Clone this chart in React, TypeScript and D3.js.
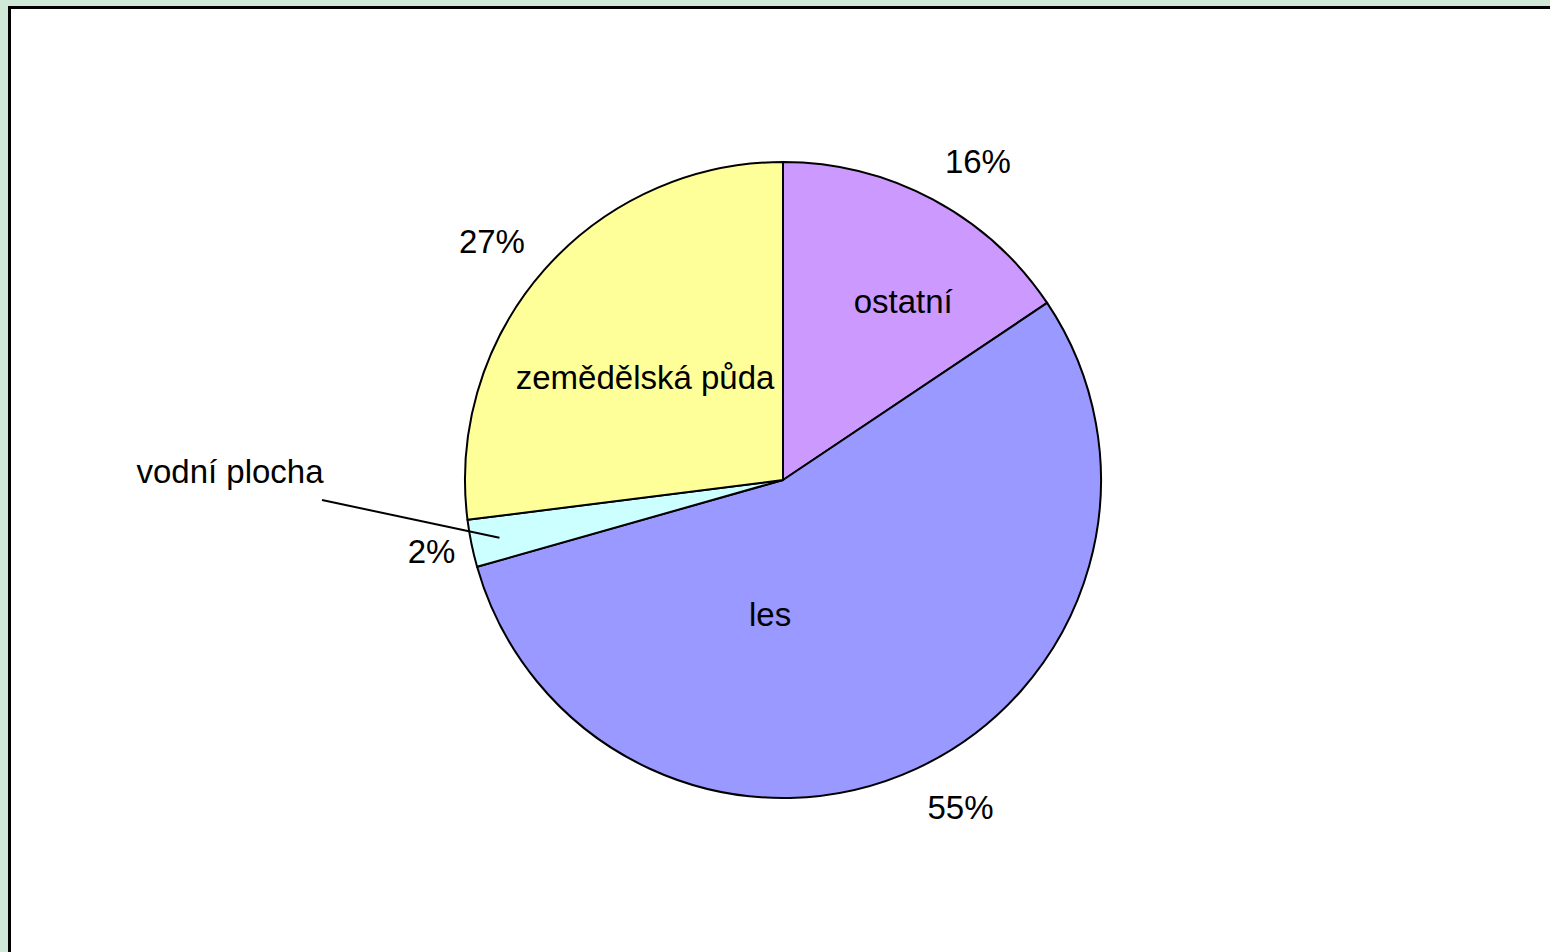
import * as d3 from 'd3'

const categories = ['ostatní', 'les', 'vodní plocha', 'zemědělská půda']
const shares = [15.6, 55.0, 2.4, 27.0]
const colors = ['#CC99FF', '#9999FF', '#CCFFFF', '#FFFF99']

// where Excel dropped the category names (angle in degrees, radius in px from the centre)
const namePlacement: { [k: string]: [number, number] } = {
    'ostatní': [34, 215],
    'les': [185.5, 135],
    'zemědělská půda': [306.7, 172],
}

const W = 1550
const H = 952
const cx = 783
const cy = 480
const R = 318
const fontSize = 33

export default function App() {
    const pie = d3.pie<number>().sort(null).value(d => d)
    const arcs = pie(shares)
    const arc = d3.arc<d3.PieArcDatum<number>>().innerRadius(0).outerRadius(R)

    const polar = (deg: number, r: number) => {
        const a = deg * Math.PI / 180
        return [cx + r * Math.sin(a), cy - r * Math.cos(a)]
    }

    const pctText = (v: number) => Math.round(v) + '%'
    // rough Arial widths for digits and percent sign
    const textWidth = (t: string) => (t.length - 1) * 0.556 * fontSize + 0.889 * fontSize

    return (
        <svg width={W} height={H} style={{ position: 'absolute', left: 0, top: 0, display: 'block' }}
            fontFamily="'Liberation Sans', Arial, sans-serif" fontSize={fontSize}>
            <rect x={0} y={0} width={W} height={H} fill="#CFE8D7" />
            <rect x={9.5} y={7.5} width={W + 20} height={H + 20} fill="#fff" stroke="#000" strokeWidth={3} />

            <g transform={`translate(${cx},${cy})`}>
                {arcs.map((a, i) => (
                    <path key={i} d={arc(a) as string} fill={colors[i]} stroke="#000" strokeWidth={2} strokeLinejoin="round" />
                ))}
            </g>

            {arcs.map((a, i) => {
                const mid = ((a.startAngle + a.endAngle) / 2) * 180 / Math.PI
                const [px, py] = polar(mid, R + 26)
                const s = Math.sin(mid * Math.PI / 180)
                const c = Math.cos(mid * Math.PI / 180)
                const txt = pctText(shares[i])
                const w = textWidth(txt)
                const h = fontSize
                const x = px + Math.sign(s) * w / 2 * (Math.abs(s) > 0.95 ? 0.6 : 1)
                const y = py - c * h / 2
                return (
                    <text key={'p' + i} x={x} y={y} textAnchor="middle" dominantBaseline="central">{txt}</text>
                )
            })}

            {categories.map((name, i) => {
                const place = namePlacement[name]
                if (!place) return null
                const [x, y] = polar(place[0], place[1])
                return (
                    <text key={'n' + i} x={x} y={y} textAnchor="middle" dominantBaseline="central">{name}</text>
                )
            })}

            {(() => {
                const i = categories.indexOf('vodní plocha')
                const a = arcs[i]
                const mid = ((a.startAngle + a.endAngle) / 2) * 180 / Math.PI
                const [ex, ey] = polar(mid, R * 0.91)
                const lx = 230
                const ly = 471
                return (
                    <g>
                        <line x1={lx + 92} y1={ly + 29} x2={ex} y2={ey} stroke="#000" strokeWidth={2} />
                        <text x={lx} y={ly} textAnchor="middle" dominantBaseline="central">{categories[i]}</text>
                    </g>
                )
            })()}
        </svg>
    )
}
